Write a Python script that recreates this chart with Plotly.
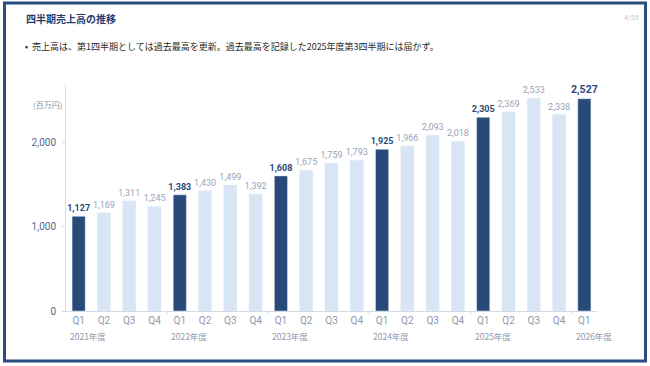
import plotly.graph_objects as go

# ---- data ----
quarters = ["Q1", "Q2", "Q3", "Q4", "Q1", "Q2", "Q3", "Q4", "Q1", "Q2", "Q3", "Q4",
            "Q1", "Q2", "Q3", "Q4", "Q1", "Q2", "Q3", "Q4", "Q1"]
fiscal_years = ["2021年度", "2022年度", "2023年度", "2024年度", "2025年度", "2026年度"]
sales = [1127, 1169, 1311, 1245,
         1383, 1430, 1499, 1392,
         1608, 1675, 1759, 1793,
         1925, 1966, 2093, 2018,
         2305, 2369, 2533, 2338,
         2527]

W, H = 650, 366
L, R, T, B = 66, 53, 85, 55
PW, PH = W - L - R, H - T - B


def px(x):
    return (x - L) / PW


def py(y):
    return (H - B - y) / PH


DARK = "#284a79"
LIGHT = "#d7e5f4"
FONT = "Noto Sans CJK JP"
NUMFONT = "Roboto"

xs = list(range(len(sales)))
q1_idx = [i for i, q in enumerate(quarters) if q == "Q1"]
other_idx = [i for i in xs if i not in q1_idx]

fig = go.Figure()
fig.add_trace(go.Bar(
    x=[xs[i] for i in other_idx], y=[sales[i] for i in other_idx],
    marker_color=LIGHT, width=0.52,
    text=[f"{sales[i]:,}" for i in other_idx], textposition="outside",
    constraintext="none",
    textfont=dict(color="#98a4ba", size=9, family=NUMFONT), cliponaxis=False,
    hoverinfo="skip",
))
fig.add_trace(go.Bar(
    x=[xs[i] for i in q1_idx], y=[sales[i] for i in q1_idx],
    marker_color=DARK, width=0.52,
    text=[f"<b>{sales[i]:,}</b>" for i in q1_idx], textposition="outside",
    constraintext="none",
    textfont=dict(color="#2b4a78", size=[9] * (len(q1_idx) - 1) + [10.5], family=NUMFONT),
    cliponaxis=False, hoverinfo="skip",
))

fig.update_layout(
    width=W, height=H, margin=dict(l=L, r=R, t=T, b=B),
    paper_bgcolor="white", plot_bgcolor="white",
    barmode="overlay", showlegend=False,
    font=dict(family=FONT),
    xaxis=dict(range=[-0.5, len(sales) - 0.5], tickvals=xs, ticktext=quarters,
               showgrid=False, zeroline=False, showline=True, linecolor="#d3dae4", linewidth=1,
               ticks="", tickfont=dict(size=10, color="#8d98ad", family=NUMFONT), fixedrange=True),
    yaxis=dict(range=[0, 2690], tickvals=[0, 1000, 2000], tickformat=",",
               showgrid=False, zeroline=False, showline=True, linecolor="#d3dae4", linewidth=1,
               ticks="outside", ticklen=3, tickcolor="#d3dae4",
               tickfont=dict(size=10, color="#56678a", family=NUMFONT), ticklabelstandoff=4,
               fixedrange=True),
)

# group boundary ticks on the x axis
for i in range(1, len(fiscal_years)):
    b = q1_idx[i] - 0.5
    fig.add_shape(type="line", xref="x", yref="paper", x0=b, x1=b, y0=0, y1=-0.015,
                  line=dict(color="#d3dae4", width=1))

# fiscal year labels
for i, fy in enumerate(fiscal_years):
    fig.add_annotation(x=q1_idx[i] - 0.42, y=py(336), xref="x", yref="paper",
                       text=fy, showarrow=False, xanchor="left", yanchor="middle",
                       font=dict(size=8.5, color="#8d98ad", family=FONT))

# unit label
fig.add_annotation(x=px(64), y=py(104), xref="paper", yref="paper", text="(百万円)",
                   showarrow=False, xanchor="right", yanchor="middle",
                   font=dict(size=8, color="#8591a8", family=FONT))

# title, page number, bullet
fig.add_annotation(x=px(24), y=py(18), xref="paper", yref="paper",
                   text="<b>四半期売上高の推移</b>", showarrow=False,
                   xanchor="left", yanchor="middle",
                   font=dict(size=10, color="#1f3b6d", family=FONT))
fig.add_annotation(x=px(641), y=py(18), xref="paper", yref="paper", text="4/35",
                   showarrow=False, xanchor="right", yanchor="middle",
                   font=dict(size=7, color="#c3cad6", family=NUMFONT))
fig.add_annotation(x=px(23), y=py(47), xref="paper", yref="paper",
                   text="•  売上高は、第1四半期としては過去最高を更新。過去最高を記録した2025年度第3四半期には届かず。",
                   showarrow=False, xanchor="left", yanchor="middle",
                   font=dict(size=9, color="#2a2a2a", family=FONT))

# slide frame
fig.add_shape(type="rect", xref="paper", yref="paper",
              x0=px(4.5), x1=px(645.5), y0=py(361), y1=py(3),
              line=dict(color="#2b4c7e", width=3), fillcolor="rgba(0,0,0,0)", layer="above")

fig.write_html("out.html")
